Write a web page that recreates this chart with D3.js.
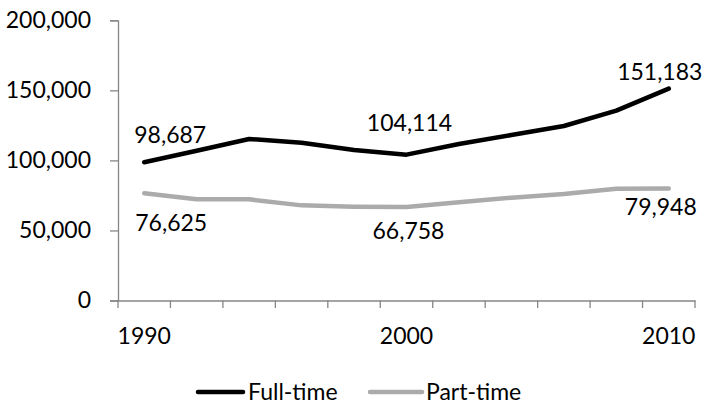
<!DOCTYPE html>
<html>
<head>
<meta charset="utf-8">
<script src="https://cdn.jsdelivr.net/npm/d3@7"></script>
<style>
  html, body { margin: 0; padding: 0; background: #fff; }
  svg { display: block; }
  text { font-family: Lato, "Open Sans", sans-serif; fill: #000; }
</style>
</head>
<body>
<svg id="chart" width="705" height="404"></svg>
<script>
// Categories (every second year) and the two employment series
const categories = ["1990","1992","1994","1996","1998","2000","2002","2004","2006","2008","2010"];
const tickLabels = ["1990","2000","2010"];
const fullTime = [98687, 106900, 115300, 112600, 107400, 104114, 111700, 118100, 124550, 135500, 151183];
const partTime = [76625, 72200, 72200, 67900, 66950, 66758, 70100, 73400, 76000, 79700, 79948];
const yTicks = [0, 50000, 100000, 150000, 200000];
const seriesNames = ["Full-time", "Part-time"];

const svg = d3.select("#chart");
const fontSize = 23;
const axisColor = "#868686";
const colors = { "Full-time": "#000000", "Part-time": "#ababab" };

const plot = { left: 118, right: 695, top: 20.3, bottom: 300.5 };

const x = d3.scaleBand().domain(categories).range([plot.left, plot.right]).padding(0);
const y = d3.scaleLinear().domain([0, 200000]).range([plot.bottom, plot.top]);
const cx = c => x(c) + x.bandwidth() / 2;

// Y axis
const yAxis = svg.append("g")
  .attr("transform", `translate(${plot.left},0)`)
  .call(d3.axisLeft(y).tickValues(yTicks).tickFormat(d3.format(",")).tickSize(8).tickPadding(19));
yAxis.select(".domain").attr("stroke", axisColor).attr("stroke-width", 1.3);
yAxis.selectAll(".tick line").attr("stroke", axisColor).attr("stroke-width", 1.3);
yAxis.selectAll(".tick text").attr("font-size", fontSize).attr("font-family", "Lato").attr("fill", "#000");

// X axis: labels at selected categories, tick marks on category boundaries
const xAxis = svg.append("g")
  .attr("transform", `translate(0,${plot.bottom})`)
  .call(d3.axisBottom(x).tickSize(0).tickPadding(27)
    .tickFormat(d => tickLabels.includes(d) ? d : ""));
xAxis.select(".domain").attr("stroke", axisColor).attr("stroke-width", 1.3);
xAxis.selectAll(".tick text").attr("font-size", fontSize).attr("font-family", "Lato").attr("fill", "#000");

const boundaries = categories.map(c => x(c)).concat([plot.right]);
svg.append("g").selectAll("line").data(boundaries).join("line")
  .attr("x1", d => d).attr("x2", d => d)
  .attr("y1", plot.bottom).attr("y2", plot.bottom + 7.5)
  .attr("stroke", axisColor).attr("stroke-width", 1.3);

// Lines
const line = d3.line().x((d, i) => cx(categories[i])).y(d => y(d));
const series = [
  { name: "Full-time", values: fullTime },
  { name: "Part-time", values: partTime }
];
svg.append("g").selectAll("path").data(series.slice().reverse()).join("path")
  .attr("d", s => line(s.values))
  .attr("fill", "none")
  .attr("stroke", s => colors[s.name])
  .attr("stroke-width", 4.5)
  .attr("stroke-linecap", "round")
  .attr("stroke-linejoin", "round");

// Value labels on selected points
const labelSpecs = [
  { s: 0, i: 0, dx: 26, dy: -19.6 },
  { s: 0, i: 5, dx: 3, dy: -24 },
  { s: 0, i: 10, dx: -9, dy: -8.5 },
  { s: 1, i: 0, dx: 27, dy: 37.4 },
  { s: 1, i: 5, dx: 2, dy: 31.6 },
  { s: 1, i: 10, dx: -8, dy: 26.5 }
];
svg.append("g").selectAll("text").data(labelSpecs).join("text")
  .attr("x", d => cx(categories[d.i]) + d.dx)
  .attr("y", d => y(series[d.s].values[d.i]) + d.dy)
  .attr("text-anchor", "middle")
  .attr("font-size", fontSize)
  .text(d => d3.format(",")(series[d.s].values[d.i]));

// Legend
const legendItems = [
  { name: seriesNames[0], x1: 198, x2: 243, tx: 248 },
  { name: seriesNames[1], x1: 370, x2: 422, tx: 426 }
];
const lg = svg.append("g");
lg.selectAll("line").data(legendItems).join("line")
  .attr("x1", d => d.x1).attr("x2", d => d.x2)
  .attr("y1", 392).attr("y2", 392)
  .attr("stroke", d => colors[d.name])
  .attr("stroke-width", 4.5)
  .attr("stroke-linecap", "round");
lg.selectAll("text").data(legendItems).join("text")
  .attr("x", d => d.tx).attr("y", 400)
  .attr("font-size", fontSize)
  .text(d => d.name);
</script>
</body>
</html>
